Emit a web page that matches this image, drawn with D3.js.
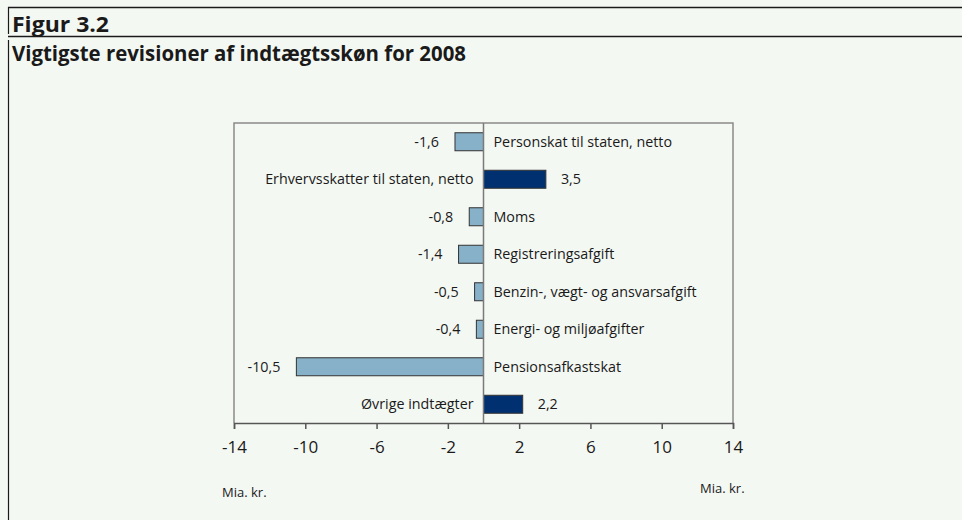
<!DOCTYPE html>
<html>
<head>
<meta charset="utf-8">
<script src="https://cdn.jsdelivr.net/npm/d3@7"></script>
<style>
  body { margin:0; background:#f4f8f3; }
  svg { display:block; font-family:"Open Sans", "Noto Sans", sans-serif; }
</style>
</head>
<body>
<div id="chart"></div>
<script>
// data
var categories = ["Personskat til staten, netto", "Erhvervsskatter til staten, netto", "Moms",
    "Registreringsafgift", "Benzin-, vægt- og ansvarsafgift", "Energi- og miljøafgifter",
    "Pensionsafkastskat", "Øvrige indtægter"];
var values = [-1.6, 3.5, -0.8, -1.4, -0.5, -0.4, -10.5, 2.2];
var tickValues = [-14, -10, -6, -2, 2, 6, 10, 14];

var W = 962, H = 520;
var svg = d3.select("#chart").append("svg").attr("width", W).attr("height", H);

svg.append("rect").attr("width", W).attr("height", H).attr("fill", "#f4f8f3");

// frame lines
svg.append("line").attr("x1", 8).attr("x2", W).attr("y1", 7.5).attr("y2", 7.5)
    .attr("stroke", "#1a1a1a").attr("stroke-width", 1.5);
svg.append("line").attr("x1", 8).attr("x2", W).attr("y1", 36.5).attr("y2", 36.5)
    .attr("stroke", "#1a1a1a").attr("stroke-width", 1.5);
svg.append("line").attr("x1", 8.5).attr("x2", 8.5).attr("y1", 7).attr("y2", 34)
    .attr("stroke", "#1a1a1a").attr("stroke-width", 1.2);
svg.append("line").attr("x1", 8.5).attr("x2", 8.5).attr("y1", 40).attr("y2", H)
    .attr("stroke", "#1a1a1a").attr("stroke-width", 1.2);

svg.append("text").attr("x", 12).attr("y", 32).text("Figur 3.2")
    .attr("font-size", 20.5).attr("font-weight", "bold").attr("fill", "#1a1a1a")
    .attr("textLength", 97).attr("lengthAdjust", "spacingAndGlyphs");
svg.append("text").attr("x", 12).attr("y", 61).text("Vigtigste revisioner af indtægtsskøn for 2008")
    .attr("font-size", 20.5).attr("font-weight", "bold").attr("fill", "#1a1a1a")
    .attr("textLength", 454).attr("lengthAdjust", "spacingAndGlyphs");

// plot area
var pLeft = 234, pRight = 733, pTop = 123, pBottom = 423;
var x = d3.scaleLinear().domain([-14, 14]).range([pLeft, pRight]);
var y = d3.scaleBand().domain(categories).range([pTop, pBottom]).paddingInner(0.52).paddingOuter(0.26);

var data = categories.map(function (c, i) { return {name: c, value: values[i]}; });

// box
svg.append("path")
    .attr("d", "M" + pLeft + "," + pBottom + "V" + pTop + "H" + pRight + "V" + pBottom)
    .attr("fill", "none").attr("stroke", "#8a8a8a").attr("stroke-width", 1.5);

var bars = svg.append("g");
bars.selectAll("rect").data(data).enter().append("rect")
    .attr("x", function (d) { return x(Math.min(0, d.value)); })
    .attr("y", function (d) { return y(d.name); })
    .attr("width", function (d) { return Math.abs(x(d.value) - x(0)); })
    .attr("height", y.bandwidth())
    .attr("fill", function (d) { return d.value < 0 ? "#86b1c9" : "#00306f"; })
    .attr("stroke", "#333").attr("stroke-width", 1);

// zero line
svg.append("line").attr("x1", x(0)).attr("x2", x(0)).attr("y1", pTop).attr("y2", pBottom)
    .attr("stroke", "#7a7a7a").attr("stroke-width", 1.5);

// category labels
svg.append("g").selectAll("text").data(data).enter().append("text")
    .attr("x", function (d) { return d.value < 0 ? x(0) + 10 : x(0) - 10; })
    .attr("y", function (d) { return y(d.name) + y.bandwidth() / 2; })
    .attr("dy", "0.35em")
    .attr("text-anchor", function (d) { return d.value < 0 ? "start" : "end"; })
    .attr("font-size", 14.3).attr("fill", "#1a1a1a")
    .text(function (d) { return d.name; });

// value labels
svg.append("g").selectAll("text").data(data).enter().append("text")
    .attr("x", function (d) { return d.value < 0 ? x(d.value) - 16 : x(d.value) + 15; })
    .attr("y", function (d) { return y(d.name) + y.bandwidth() / 2; })
    .attr("dy", "0.35em")
    .attr("text-anchor", function (d) { return d.value < 0 ? "end" : "start"; })
    .attr("font-size", 14.3).attr("fill", "#1a1a1a")
    .text(function (d) { return String(d.value).replace(".", ","); });

// x axis
var axis = svg.append("g").attr("transform", "translate(0," + pBottom + ")")
    .call(d3.axisBottom(x).tickValues(tickValues).tickSize(6).tickPadding(12)
        .tickFormat(function (d) { return d; }));
axis.select(".domain").attr("stroke", "#555").attr("stroke-width", 1.5);
axis.selectAll(".tick line").attr("stroke", "#555").attr("stroke-width", 1.5);
axis.selectAll(".tick text").attr("font-size", 17).attr("fill", "#1a1a1a")
    .attr("font-family", "\"Open Sans\", sans-serif");

svg.append("text").attr("x", 222).attr("y", 497).text("Mia. kr.")
    .attr("font-size", 13).attr("fill", "#1a1a1a");
svg.append("text").attr("x", 700).attr("y", 493).text("Mia. kr.")
    .attr("font-size", 13).attr("fill", "#1a1a1a");
</script>
</body>
</html>
